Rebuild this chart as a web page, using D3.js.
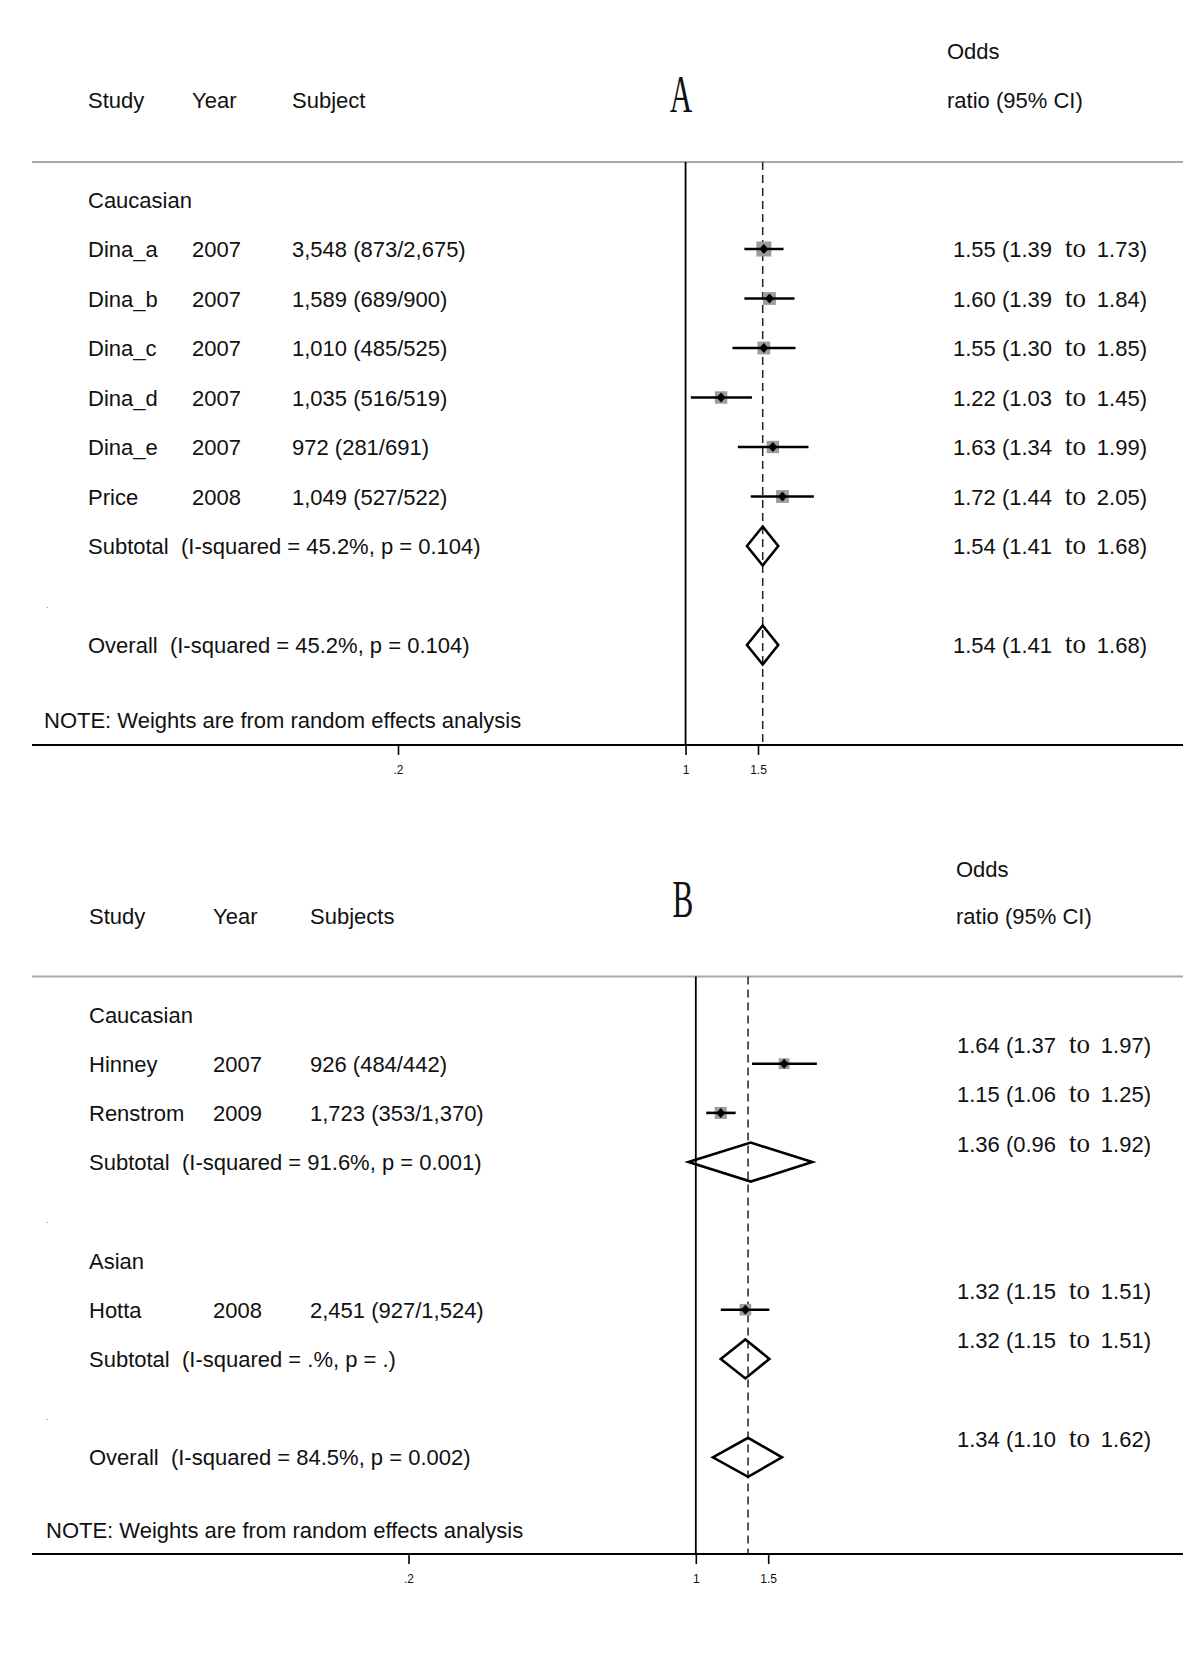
<!DOCTYPE html>
<html>
<head>
<meta charset="utf-8">
<script src="https://cdn.jsdelivr.net/npm/d3@7"></script>
<style>
  body { margin: 0; background: #fff; }
  svg text { font-family: "Liberation Sans", Arial, sans-serif; fill: #111; white-space: pre; }
</style>
</head>
<body>
<div id="chart"></div>
<script>
// ---- panel A data ----
const groupsA = ["Caucasian"];
const studiesA = ["Dina_a", "Dina_b", "Dina_c", "Dina_d", "Dina_e", "Price"];
const studyGroupA = ["Caucasian", "Caucasian", "Caucasian", "Caucasian", "Caucasian", "Caucasian"];
const yearsA = ["2007", "2007", "2007", "2007", "2007", "2008"];
const subjectsA = ["3,548 (873/2,675)", "1,589 (689/900)", "1,010 (485/525)", "1,035 (516/519)", "972 (281/691)", "1,049 (527/522)"];
const orA = [1.55, 1.60, 1.55, 1.22, 1.63, 1.72];
const lowA = [1.39, 1.39, 1.30, 1.03, 1.34, 1.44];
const highA = [1.73, 1.84, 1.85, 1.45, 1.99, 2.05];
const weightsA = [22, 16, 16, 15, 15, 16];
const subLabelsA = ["Subtotal  (I-squared = 45.2%, p = 0.104)"];
const subOrA = [1.54], subLowA = [1.41], subHighA = [1.68];
const overallLabelA = "Overall  (I-squared = 45.2%, p = 0.104)";
const overallA = [1.54, 1.41, 1.68];

// ---- panel B data ----
const groupsB = ["Caucasian", "Asian"];
const studiesB = ["Hinney", "Renstrom", "Hotta"];
const studyGroupB = ["Caucasian", "Caucasian", "Asian"];
const yearsB = ["2007", "2009", "2008"];
const subjectsB = ["926 (484/442)", "1,723 (353/1,370)", "2,451 (927/1,524)"];
const orB = [1.64, 1.15, 1.32];
const lowB = [1.37, 1.06, 1.15];
const highB = [1.97, 1.25, 1.51];
const weightsB = [13, 16, 15];
const subLabelsB = ["Subtotal  (I-squared = 91.6%, p = 0.001)", "Subtotal  (I-squared = .%, p = .)"];
const subOrB = [1.36, 1.32], subLowB = [0.96, 1.15], subHighB = [1.92, 1.51];
const overallLabelB = "Overall  (I-squared = 84.5%, p = 0.002)";
const overallB = [1.34, 1.10, 1.62];

const tickVals = [0.2, 1, 1.5];
const tickLabels = [".2", "1", "1.5"];
const noteText = "NOTE: Weights are from random effects analysis";

const W = 1200, H = 1663;
const fmt = d3.format(".2f");

const svg = d3.select("#chart").append("svg")
  .attr("width", W)
  .attr("height", H);

// turn the arrays into a list of rows (group header, studies, subtotal, spacer ... overall)
function buildRows(p) {
  const rows = [];
  p.groups.forEach((g, gi) => {
    rows.push({ type: "group", label: g });
    p.studies.forEach((s, i) => {
      if (p.studyGroup[i] !== g) return;
      rows.push({ type: "study", label: s, year: p.years[i], subj: p.subjects[i],
                  or: p.or[i], lo: p.lo[i], hi: p.hi[i], w: p.weights[i] });
    });
    rows.push({ type: "summary", label: p.subLabels[gi], or: p.subOr[gi], lo: p.subLo[gi], hi: p.subHi[gi] });
    rows.push({ type: "spacer" });
  });
  rows.push({ type: "summary", label: p.overallLabel, or: p.overall[0], lo: p.overall[1], hi: p.overall[2] });
  return rows;
}

function drawPanel(p, L) {
  const rows = buildRows(p);
  const g = svg.append("g");

  const x = d3.scaleLog().domain([0.2, 1.5]).range(L.xRange);
  const y = d3.scaleLinear().domain([0, 1]).range([L.rowTop, L.rowTop + L.step]);
  const box = d3.scaleSqrt().domain([0, d3.max(p.weights)]).range([0, L.maxBox]);

  // header
  g.append("line")
    .attr("x1", 32).attr("x2", 1183)
    .attr("y1", L.headLine).attr("y2", L.headLine)
    .attr("stroke", "#a8a8a8").attr("stroke-width", 2);

  g.selectAll(".hdr")
    .data(p.headers)
    .enter().append("text")
    .attr("x", (d, i) => L.colX[i])
    .attr("y", L.headBase)
    .attr("font-size", 22)
    .text(d => d);

  g.append("text").attr("x", L.hdrOrX).attr("y", L.oddsBase).attr("font-size", 22).text("Odds");
  g.append("text").attr("x", L.hdrOrX).attr("y", L.headBase).attr("font-size", 22).text("ratio (95% CI)");

  // panel letter, tall and narrow serif
  g.append("text")
    .attr("transform", `translate(${L.letterX},${L.letterBase}) scale(0.6,1)`)
    .attr("text-anchor", "middle")
    .attr("font-size", 52)
    .style("font-family", "'Liberation Serif', 'Times New Roman', serif")
    .text(p.letter);

  // reference lines
  g.append("line")
    .attr("x1", x(1)).attr("x2", x(1))
    .attr("y1", L.headLine).attr("y2", L.axisY)
    .attr("stroke", "#000").attr("stroke-width", 1.8);

  g.append("line")
    .attr("x1", x(p.overall[0])).attr("x2", x(p.overall[0]))
    .attr("y1", L.headLine).attr("y2", L.axisY)
    .attr("stroke", "#222").attr("stroke-width", 1.5)
    .attr("stroke-dasharray", "8,5");

  // left text columns
  rows.forEach((r, i) => {
    const base = y(i) + 8;
    if (r.type === "group" || r.type === "summary") {
      g.append("text").attr("x", L.colX[0]).attr("y", base).attr("font-size", 22).text(r.label);
    } else if (r.type === "study") {
      g.append("text").attr("x", L.colX[0]).attr("y", base).attr("font-size", 22).text(r.label);
      g.append("text").attr("x", L.colX[1]).attr("y", base).attr("font-size", 22).text(r.year);
      g.append("text").attr("x", L.colX[2]).attr("y", base).attr("font-size", 22).text(r.subj);
    } else if (r.type === "spacer") {
      g.append("text").attr("x", 46).attr("y", base + 4).attr("font-size", 9)
        .style("fill", "#777").text(".");
    }
  });

  const studyRows = rows.map((r, i) => Object.assign({ i: i }, r)).filter(r => r.type === "study");
  const sumRows = rows.map((r, i) => Object.assign({ i: i }, r)).filter(r => r.type === "summary");

  // weight boxes
  g.selectAll(".wbox")
    .data(studyRows)
    .enter().append("rect")
    .attr("x", d => x(d.or) - box(d.w) / 2)
    .attr("y", d => y(d.i) - box(d.w) / 2)
    .attr("width", d => box(d.w))
    .attr("height", d => box(d.w))
    .attr("fill", "#9c9c9c");

  // confidence intervals
  g.selectAll(".ci")
    .data(studyRows)
    .enter().append("line")
    .attr("x1", d => x(d.lo)).attr("x2", d => x(d.hi))
    .attr("y1", d => y(d.i)).attr("y2", d => y(d.i))
    .attr("stroke", "#000").attr("stroke-width", 2.6);

  // point estimates
  g.selectAll(".pt")
    .data(studyRows)
    .enter().append("path")
    .attr("d", d => {
      const cx = x(d.or), cy = y(d.i);
      return `M${cx - 4.5},${cy}L${cx},${cy - 5}L${cx + 4.5},${cy}L${cx},${cy + 5}Z`;
    })
    .attr("fill", "#000");

  // pooled diamonds
  g.selectAll(".dia")
    .data(sumRows)
    .enter().append("path")
    .attr("d", d => {
      const cy = y(d.i), h = 19.5;
      return `M${x(d.lo)},${cy}L${x(d.or)},${cy - h}L${x(d.hi)},${cy}L${x(d.or)},${cy + h}Z`;
    })
    .attr("fill", "none")
    .attr("stroke", "#000")
    .attr("stroke-width", 2.6)
    .attr("stroke-linejoin", "miter");

  // odds ratio text on the right
  const orRows = studyRows.concat(sumRows);
  orRows.forEach(r => {
    const base = y(r.i) + 8 + L.orShift;
    g.append("text").attr("x", L.orX).attr("y", base).attr("font-size", 22)
      .text(fmt(r.or) + " (" + fmt(r.lo));
    g.append("text").attr("x", L.orX + 112).attr("y", base).attr("font-size", 27)
      .style("font-family", "'Liberation Serif', 'Times New Roman', serif")
      .text("to");
    g.append("text").attr("x", L.orX + 194).attr("y", base).attr("font-size", 22)
      .attr("text-anchor", "end")
      .text(fmt(r.hi) + ")");
  });

  // note
  g.append("text").attr("x", L.noteX).attr("y", L.noteY + 8).attr("font-size", 22).text(noteText);

  // x axis (log scale)
  g.append("line")
    .attr("x1", 32).attr("x2", 1183)
    .attr("y1", L.axisY).attr("y2", L.axisY)
    .attr("stroke", "#000").attr("stroke-width", 2);

  const axis = d3.axisBottom(x)
    .tickValues(tickVals)
    .tickFormat((d, i) => tickLabels[i])
    .tickSize(10)
    .tickPadding(10);

  const ag = g.append("g")
    .attr("transform", `translate(0,${L.axisY})`)
    .call(axis);
  ag.select(".domain").remove();
  ag.selectAll(".tick line").attr("stroke", "#000").attr("stroke-width", 1.6);
  ag.selectAll(".tick text")
    .attr("font-size", 12)
    .style("font-family", "'Liberation Sans', Arial, sans-serif")
    .attr("fill", "#111");
}

drawPanel({
  letter: "A",
  headers: ["Study", "Year", "Subject"],
  groups: groupsA, studies: studiesA, studyGroup: studyGroupA, years: yearsA, subjects: subjectsA,
  or: orA, lo: lowA, hi: highA, weights: weightsA,
  subLabels: subLabelsA, subOr: subOrA, subLo: subLowA, subHi: subHighA,
  overallLabel: overallLabelA, overall: overallA
}, {
  xRange: [398, 758], rowTop: 199.5, step: 49.5, headLine: 162, headBase: 107.5, oddsBase: 59,
  colX: [88, 192, 292], orX: 953, hdrOrX: 947, orShift: 0, letterX: 681, letterBase: 111.5,
  noteX: 44, noteY: 720, axisY: 745, maxBox: 15
});

drawPanel({
  letter: "B",
  headers: ["Study", "Year", "Subjects"],
  groups: groupsB, studies: studiesB, studyGroup: studyGroupB, years: yearsB, subjects: subjectsB,
  or: orB, lo: lowB, hi: highB, weights: weightsB,
  subLabels: subLabelsB, subOr: subOrB, subLo: subLowB, subHi: subHighB,
  overallLabel: overallLabelB, overall: overallB
}, {
  xRange: [408.5, 768.2], rowTop: 1014.5, step: 49.2, headLine: 976.5, headBase: 924, oddsBase: 877,
  colX: [89, 213, 310], orX: 957, hdrOrX: 956, orShift: -18.5, letterX: 683, letterBase: 917,
  noteX: 46, noteY: 1530, axisY: 1554, maxBox: 12
});
</script>
</body>
</html>
